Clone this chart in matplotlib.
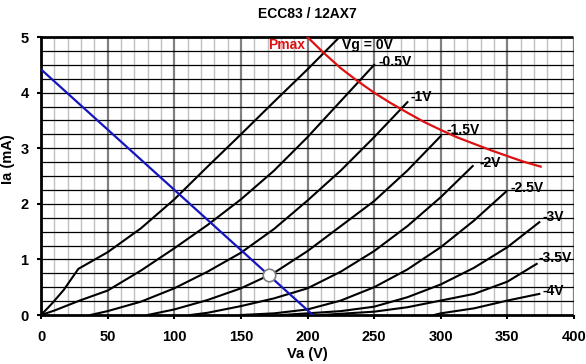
import matplotlib
matplotlib.use('Agg')
import matplotlib.pyplot as plt
import numpy as np

# anode characteristic curves (Va in V, Ia in mA)
va_0 = [0, 8, 17, 28, 50, 75, 100, 125, 150, 175, 200, 224]
ia_0 = [0, 0.2, 0.45, 0.83, 1.13, 1.56, 2.08, 2.67, 3.25, 3.84, 4.42, 5.0]
va_05 = [0, 10, 29, 50, 75, 100, 125, 150, 175, 200, 225, 250]
ia_05 = [0, 0.08, 0.26, 0.44, 0.8, 1.2, 1.62, 2.08, 2.6, 3.2, 3.85, 4.5]
va_1 = [37, 50, 75, 100, 125, 150, 175, 200, 225, 250, 275]
ia_1 = [0, 0.07, 0.24, 0.48, 0.78, 1.12, 1.55, 2.06, 2.6, 3.2, 3.83]
va_15 = [80, 100, 125, 150, 175, 200, 225, 250, 275, 300]
ia_15 = [0, 0.1, 0.27, 0.48, 0.76, 1.15, 1.6, 2.05, 2.6, 3.22]
va_2 = [112, 125, 150, 175, 200, 225, 250, 275, 300, 324]
ia_2 = [0, 0.04, 0.16, 0.3, 0.48, 0.78, 1.15, 1.6, 2.12, 2.68]
va_25 = [150, 175, 200, 225, 250, 275, 300, 325, 349]
ia_25 = [0, 0.03, 0.1, 0.26, 0.5, 0.82, 1.22, 1.7, 2.22]
va_3 = [180, 200, 225, 250, 275, 300, 325, 350, 374]
ia_3 = [0, 0.03, 0.07, 0.15, 0.32, 0.55, 0.85, 1.22, 1.67]
va_35 = [210, 250, 275, 300, 325, 350, 372]
ia_35 = [0, 0.06, 0.14, 0.26, 0.38, 0.6, 0.92]
va_4 = [295, 300, 325, 350, 374]
ia_4 = [0, 0.03, 0.12, 0.26, 0.38]

curves = [(va_0, ia_0), (va_05, ia_05), (va_1, ia_1), (va_15, ia_15), (va_2, ia_2),
          (va_25, ia_25), (va_3, ia_3), (va_35, ia_35), (va_4, ia_4)]
curve_labels = ['Vg = 0V', '-0.5V', '-1V', '-1.5V', '-2V', '-2.5V', '-3V', '-3.5V', '-4V']
label_pos = [(226, 4.85), (253, 4.55), (277, 3.92), (304, 3.32), (329, 2.73),
             (352, 2.28), (376, 1.76), (373, 1.02), (376, 0.44)]

# max dissipation curve (1 W)
va_pmax = [200, 212, 225, 237, 250, 262, 275, 287, 300, 312, 325, 337, 350, 362, 375]
ia_pmax = [5.0, 4.72, 4.44, 4.22, 4.0, 3.82, 3.64, 3.48, 3.33, 3.2, 3.08, 2.97, 2.86, 2.76, 2.67]

# load line and operating point
va_load = [0, 204]
ia_load = [4.42, 0]
op_va, op_ia = 171, 0.72

plt.rcParams['font.family'] = ['Liberation Sans', 'DejaVu Sans']

fig = plt.figure(figsize=(5.86, 3.64), dpi=100)
ax = fig.add_axes([0.070, 0.1346, 0.9095, 0.7634])

# grid
for x in np.arange(0, 401, 10):
    if x % 50 == 0:
        ax.axvline(x, color='#808080', lw=1.6, zorder=1)
    else:
        ax.axvline(x, color='#c0c0c0', lw=1.0, zorder=1)
for y in np.arange(0.25, 5.0, 0.25):
    ax.axhline(y, color='black', lw=0.9, zorder=1)

for (va, ia) in curves:
    ax.plot(va, ia, color='black', lw=1.5, zorder=3)
for txt, (x, y) in zip(curve_labels, label_pos):
    ax.text(x, y, txt, fontsize=10, fontweight='bold', va='center', ha='left', zorder=5)

ax.plot(va_pmax, ia_pmax, color='#dd1111', lw=1.6, zorder=4)
ax.text(198, 4.85, 'Pmax', color='#dd1111', fontsize=10, fontweight='bold',
        va='center', ha='right', zorder=5)

ax.plot(va_load, ia_load, color='#1515c0', lw=1.6, zorder=4)
ax.plot(op_va, op_ia, marker='o', markersize=9, markerfacecolor='white',
        markeredgecolor='#808080', markeredgewidth=1.2, zorder=6)

ax.set_xlim(0, 400)
ax.set_ylim(0, 5)
ax.set_xticks(range(0, 401, 50))
ax.set_yticks(range(0, 6))
ax.tick_params(labelsize=10.5, length=3, width=1.5)
ax.tick_params(axis='x', pad=8)
ax.tick_params(axis='y', pad=6)
for lab in ax.get_xticklabels() + ax.get_yticklabels():
    lab.set_fontweight('bold')

for side in ['left', 'top', 'bottom']:
    ax.spines[side].set_linestyle((0, (1, 1)))
    ax.spines[side].set_linewidth(2)
ax.spines['right'].set_visible(False)

ax.set_xlabel('Va (V)', fontsize=10.5, fontweight='bold', labelpad=2)
ax.set_ylabel('Ia (mA)', fontsize=10.5, fontweight='bold')
ax.yaxis.set_label_coords(-0.048, 0.56)
ax.set_title('ECC83 / 12AX7', fontsize=10, fontweight='bold', pad=14)

fig.savefig('out.png', dpi=100)
